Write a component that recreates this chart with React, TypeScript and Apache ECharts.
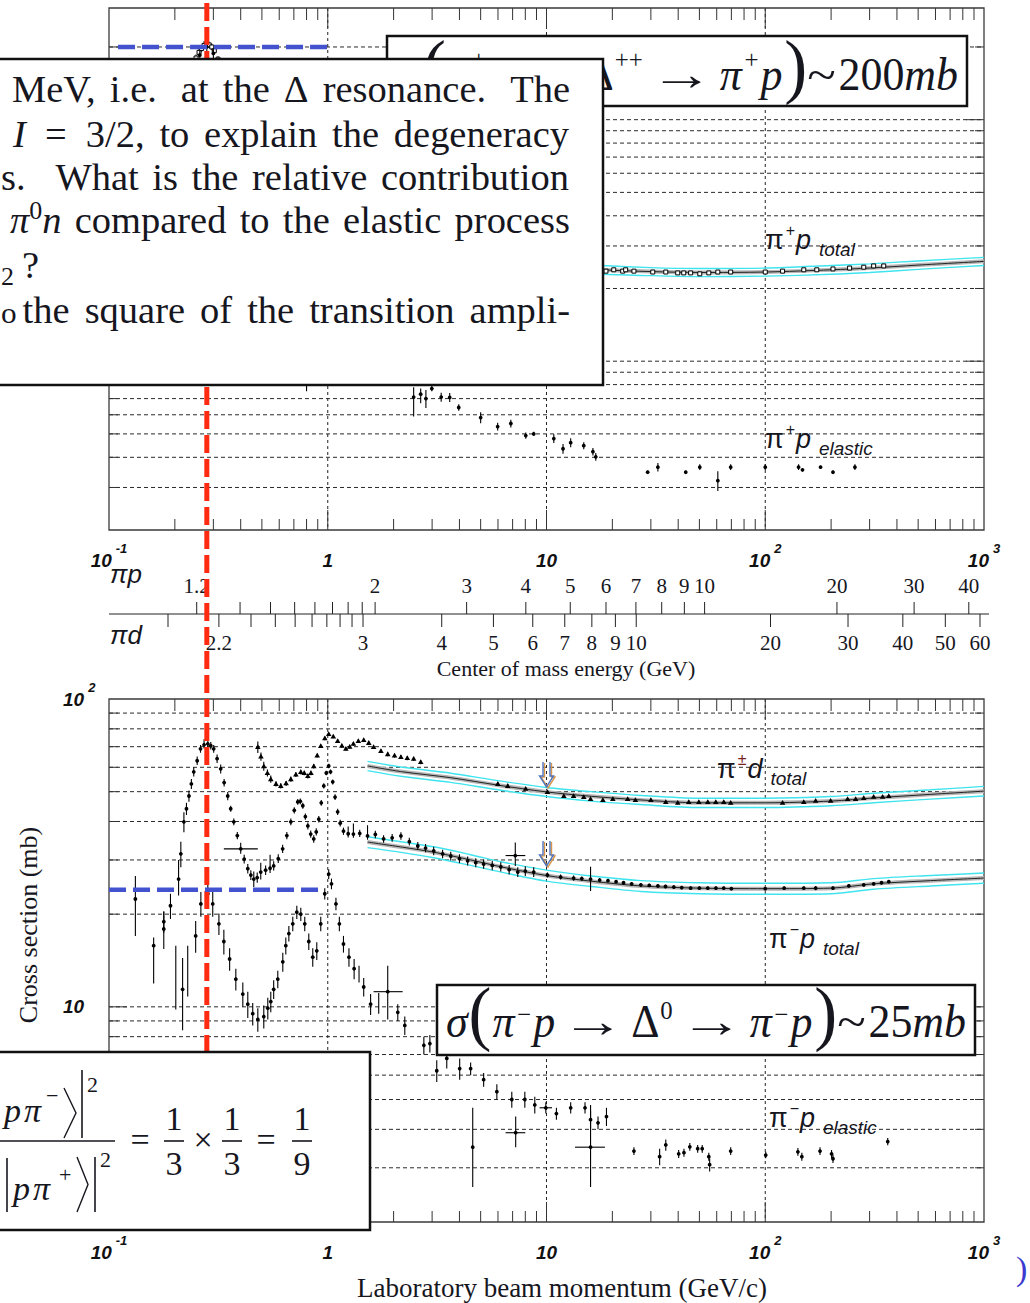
import React, { useEffect, useRef } from "react";
import * as echarts from "echarts";

// ======================= DATA =======================
// rows: [p_lab (GeV/c), sigma (mb), err down, err up, (p low, p high)]
const PIP_TOTAL = [
  [0.15, 30, 4, 4], [0.17, 45, 4, 4], [0.19, 75, 5, 5], [0.21, 110, 6, 6], [0.225, 140, 6, 6],
  [0.24, 165, 6, 6], [0.25, 180, 6, 6], [0.258, 190, 8, 8], [0.265, 197, 6, 6], [0.272, 203, 6, 8],
  [0.28, 206, 6, 6], [0.287, 204, 6, 6], [0.295, 200, 6, 6], [0.303, 193, 6, 6], [0.315, 178, 5, 5],
  [0.33, 160, 5, 5], [0.35, 138, 4, 4], [0.375, 112, 4, 4], [0.4, 92, 3, 3], [0.45, 64, 2, 2],
  [0.5, 45, 2, 2], [0.55, 33, 1, 1], [0.6, 25, 1, 1], [0.7, 17, 1, 1], [0.8, 15, 1, 1],
  [0.9, 18, 1, 1], [1.0, 23, 1, 1], [1.1, 25, 1, 1], [1.2, 24.5, 1, 1], [1.3, 26, 1, 1],
  [1.4, 33, 1, 1], [1.5, 38.5, 1, 1], [1.6, 37, 1, 1], [1.8, 32, 1, 1], [2.0, 30, 1, 1],
  [2.3, 29.5, 1, 1], [2.6, 29, 1, 1], [3.0, 28.2, 0.8, 0.8], [3.5, 27.8, 0.8, 0.8], [4.0, 27.2, 0.6, 0.6],
  [5.0, 26.5, 0.5, 0.5], [6.5, 25.8, 0.5, 0.5], [8.0, 25.3, 0.5, 0.5], [10.0, 24.9, 0.4, 0.4],
  [12.0, 24.5, 0.4, 0.4], [15.0, 24.1, 0.4, 0.4], [17.7, 23.6, 0.4, 0.4], [18.7, 23.6, 0.3, 0.3],
  [20.3, 23.9, 0.5, 0.5], [22.3, 23.6, 0.3, 0.3], [23.0, 23.9, 0.3, 0.3], [25.1, 23.6, 0.3, 0.3],
  [30.6, 23.4, 0.2, 0.2], [35.1, 23.4, 0.2, 0.2], [39.8, 23.2, 0.2, 0.2], [42.4, 23.2, 0.2, 0.2],
  [45.6, 23.2, 0.2, 0.2], [50.2, 23.0, 0.4, 0.2], [55.2, 23.2, 0.2, 0.2], [60.7, 23.4, 0.2, 0.2],
  [69.5, 23.4, 0.2, 0.2], [100, 23.4, 0.2, 0.2], [120, 23.6, 0.2, 0.2], [150, 23.9, 0.3, 0.3],
  [172, 23.9, 0.2, 0.2], [204, 24.1, 0.2, 0.2], [243, 24.3, 0.2, 0.2], [282, 24.5, 0.2, 0.2],
  [313, 24.8, 0.2, 0.2], [348, 24.8, 0.2, 0.2],
];
const PIP_ELASTIC = [
  [0.17, 40, 4, 4], [0.2, 85, 5, 5], [0.23, 140, 8, 8], [0.26, 185, 8, 8], [0.28, 200, 8, 8],
  [0.3, 188, 8, 8], [0.33, 150, 6, 6], [0.37, 105, 5, 5], [0.42, 70, 4, 4], [0.5, 38, 3, 3],
  [0.6, 18, 2, 2], [0.7, 10, 1, 1], [0.8, 8.5, 1, 1], [0.9, 10, 1, 1], [1.0, 13, 1, 1],
  [1.2, 15, 1, 1], [1.5, 17, 1.5, 1.5], [1.8, 13, 1, 1], [2.1, 10, 1, 1],
  [2.47, 7.1, 1.2, 0.7], [2.66, 7.3, 0.6, 0.4], [2.81, 7.0, 0.6, 0.6], [2.99, 7.7, 0.2, 0.2],
  [3.3, 7.1, 0.3, 0.3], [3.61, 7.08, 0.3, 0.3], [3.97, 6.43, 0.2, 0.2], [5.0, 5.84, 0.3, 0.3],
  [5.98, 5.36, 0.2, 0.2], [6.87, 5.52, 0.2, 0.2], [8.04, 4.92, 0.15, 0.15], [8.74, 5.0, 0.1, 0.1],
  [10.8, 4.78, 0.2, 0.2], [11.9, 4.34, 0.2, 0.2], [12.9, 4.6, 0.2, 0.2], [14.8, 4.47, 0.15, 0.15],
  [16.3, 4.22, 0.15, 0.15], [16.8, 4.02, 0.15, 0.15], [29.0, 3.47, 0.05, 0.05], [32.3, 3.64, 0.15, 0.15],
  [43.3, 3.47, 0.05, 0.05], [50.2, 3.64, 0.1, 0.1], [60.7, 3.2, 0.3, 0.3], [69.5, 3.64, 0.1, 0.1],
  [100, 3.64, 0.1, 0.1], [142, 3.64, 0.1, 0.1], [148, 3.55, 0.05, 0.05], [179, 3.64, 0.05, 0.05],
  [204, 3.47, 0.05, 0.05], [257, 3.64, 0.1, 0.1],
];
const PIP_FIT = [[4, 26.6], [6, 25.7], [10, 24.8], [18, 23.9], [30, 23.5], [50, 23.3], [100, 23.4], [200, 23.9], [300, 24.3], [500, 25.0], [1000, 25.9]];
const PIP_FIT_HI = [[4, 27.7], [6, 26.7], [10, 25.8], [18, 24.9], [30, 24.4], [50, 24.2], [100, 24.3], [200, 24.9], [300, 25.3], [500, 26.0], [1000, 26.9]];
const PIP_FIT_LO = [[4, 25.5], [6, 24.7], [10, 23.8], [18, 22.9], [30, 22.6], [50, 22.4], [100, 22.5], [200, 22.9], [300, 23.3], [500, 24.0], [1000, 24.9]];

const PIMP_TOTAL = [
  [0.132, 22.4, 5.4, 4.2], [0.178, 18.9, 1.5, 1.5], [0.191, 21.3, 2, 2], [0.208, 26, 3, 4], [0.213, 31.4, 3, 3],
  [0.22, 39.9, 3, 3], [0.226, 44, 2, 2], [0.232, 48.4, 2, 2], [0.238, 53, 2, 2], [0.244, 58, 2, 2],
  [0.253, 63, 2, 2], [0.262, 68.9, 2, 2], [0.272, 71, 2, 3], [0.283, 71.5, 2, 4], [0.292, 70.5, 2, 2],
  [0.301, 68.9, 2, 2], [0.312, 64, 2, 2], [0.324, 59.3, 2, 2], [0.336, 53.5, 1.5, 1.5], [0.349, 48.4, 1.5, 1.5],
  [0.36, 44, 1, 1], [0.372, 39.9, 1, 1], [0.386, 36, 1, 1], [0.4, 32.6, 1.2, 1.5, 0.335, 0.479],
  [0.415, 30.2, 1, 1], [0.431, 28.1, 1, 1], [0.445, 26.8, 1, 1], [0.459, 26, 1.5, 1.5], [0.476, 26.3, 1, 1],
  [0.494, 27.4, 1.5, 2], [0.52, 27.8, 1, 1], [0.545, 28.2, 1, 3], [0.566, 28.7, 1, 1], [0.594, 30.3, 1, 1],
  [0.622, 32.6, 1, 1], [0.65, 36, 1, 1], [0.678, 39.9, 1, 1], [0.703, 43.5, 1, 1], [0.729, 46.3, 1, 1],
  [0.749, 46.5, 1, 1], [0.769, 45, 1, 1], [0.79, 41.5, 1, 1], [0.811, 38.7, 1, 1], [0.836, 36.4, 1, 1],
  [0.863, 35.1, 1, 1], [0.886, 37, 1, 1], [0.91, 40.7, 1, 1], [0.934, 46, 1, 1], [0.959, 52.2, 1, 1],
  [0.985, 57.5, 1, 1], [1.01, 60.6, 1, 1], [1.03, 58, 1, 1], [1.054, 53.8, 1, 1], [1.08, 48, 1, 1],
  [1.11, 43, 1, 1], [1.14, 39.5, 1, 1], [1.18, 37.2, 1, 1], [1.24, 36.5, 1, 2], [1.31, 36.4, 1, 3],
  [1.4, 36.6, 1, 1], [1.52, 35.9, 1, 3], [1.65, 36.3, 1, 1], [1.8, 35.1, 1, 1], [1.97, 35.4, 1, 1],
  [2.16, 35.9, 1, 1], [2.36, 34.4, 1, 1], [2.58, 33.3, 1, 1], [2.8, 32.8, 1, 1], [3.05, 32.1, 1, 1],
  [3.35, 31.4, 1, 1], [3.65, 30.9, 1, 1], [4.0, 30.3, 1, 1], [4.36, 29.8, 1, 1], [4.75, 29.4, 1, 1],
  [5.16, 29.1, 1, 1], [5.65, 28.8, 1, 1], [6.18, 28.5, 1, 1], [6.75, 27.9, 1, 1], [7.2, 31.0, 2.3, 3.2, 6.5, 8.0],
  [7.39, 27.4, 1, 1], [8.0, 27.6, 1, 1], [8.74, 27.4, 1, 1], [10.1, 26.8, 0.5, 0.5], [11.6, 26.4, 0.5, 0.5],
  [13.3, 26.2, 0.5, 0.5], [14.5, 26.1, 0.4, 0.4], [15.9, 26.0, 2.2, 2.5], [17.5, 25.8, 0.4, 0.4],
  [19.1, 25.7, 0.3, 0.3], [20.8, 25.5, 0.3, 0.3], [22.5, 25.3, 0.3, 0.3], [24.5, 25.1, 0.3, 0.3],
  [27.0, 24.9, 0.3, 0.3], [29.5, 24.8, 0.3, 0.3], [32.3, 24.7, 0.3, 0.3], [35.0, 24.6, 0.3, 0.3],
  [38.2, 24.5, 0.3, 0.3], [41.5, 24.4, 0.3, 0.3], [45.6, 24.3, 0.3, 0.3], [50, 24.3, 0.3, 0.3],
  [54.6, 24.3, 0.3, 0.3], [59.5, 24.3, 0.3, 0.3], [64.6, 24.3, 0.3, 0.3], [70, 24.2, 0.3, 0.3],
  [100, 24.2, 0.3, 0.3], [122, 24.3, 0.3, 0.3], [150, 24.3, 0.3, 0.3], [170, 24.3, 0.4, 0.4],
  [204, 24.3, 0.3, 0.3], [241, 24.7, 0.3, 0.3], [282, 24.9, 0.3, 0.3], [313, 25.1, 0.3, 0.3],
  [340, 25.3, 0.3, 0.3], [367, 25.5, 0.3, 0.3],
];
const PIMP_ELASTIC = [
  [0.16, 15.8, 3.9, 1], [0.178, 17.9, 2.5, 2.5], [0.202, 12.8, 3, 3], [0.217, 11.4, 3, 3], [0.229, 12.8, 2, 3],
  [0.249, 17, 2, 2], [0.263, 21.6, 2, 2], [0.283, 23.3, 2, 2], [0.298, 21.6, 2, 2], [0.318, 18.6, 1.5, 1.5],
  [0.335, 16.3, 1.5, 1.5], [0.356, 14.3, 1.2, 1.2], [0.38, 12.3, 1, 1], [0.409, 11, 1, 1], [0.431, 10.2, 1, 1],
  [0.454, 9.5, 0.8, 0.8], [0.479, 9.1, 0.8, 0.8], [0.51, 9.3, 0.8, 0.8], [0.532, 9.9, 0.8, 0.8],
  [0.549, 10.4, 0.8, 0.8], [0.566, 11.4, 0.8, 0.8], [0.591, 12.3, 0.8, 0.8], [0.623, 14, 1, 1],
  [0.643, 15.8, 1, 1], [0.664, 17.3, 1, 1], [0.692, 18.6, 1, 1], [0.722, 20.3, 1, 1], [0.753, 20, 1, 1],
  [0.785, 18.6, 1, 1], [0.819, 16.3, 1, 1], [0.854, 14.5, 1, 1], [0.891, 15.2, 1, 1], [0.929, 18.6, 1, 1],
  [0.969, 23.3, 1, 1], [1.01, 27, 1, 1], [1.04, 25.1, 1, 1], [1.09, 21.6, 1, 1], [1.13, 18.6, 1, 1],
  [1.18, 16, 1, 1], [1.25, 14.5, 1, 1], [1.32, 13.3, 1, 1], [1.39, 12.8, 0.8, 0.8], [1.46, 11.6, 0.8, 0.8],
  [1.57, 10.2, 0.8, 0.8], [1.71, 10.3, 0.8, 0.8], [1.88, 11.2, 2.1, 2.4, 1.62, 2.2], [2.09, 9.6, 0.6, 0.6],
  [2.25, 8.7, 0.6, 0.6], [2.75, 7.5, 0.5, 0.5], [2.93, 7.6, 0.5, 0.5], [3.15, 6.2, 0.5, 0.5],
  [3.5, 6.8, 0.5, 0.5], [4.01, 6.3, 0.5, 0.5], [4.5, 6.3, 0.3, 0.3], [4.6, 3.5, 0.9, 1.2],
  [5.16, 5.8, 0.3, 0.3], [5.93, 5.3, 0.3, 0.3], [6.94, 5.0, 0.3, 0.3], [7.23, 3.9, 0.4, 0.5, 6.5, 8.0],
  [7.96, 5.0, 0.3, 0.3], [8.84, 4.8, 0.3, 0.3], [9.93, 4.7, 0.2, 0.2, 9.3, 10.6], [11.1, 4.5, 0.2, 0.2],
  [12.9, 4.7, 0.2, 0.2], [15.0, 4.7, 0.2, 0.2], [15.9, 4.3, 0.3, 0.3], [15.9, 3.5, 0.9, 1.3, 13.5, 18.5],
  [17.2, 4.2, 0.2, 0.2], [18.8, 4.4, 0.3, 0.3], [25.1, 3.4, 0.1, 0.1], [32.9, 3.26, 0.2, 0.2],
  [35.1, 3.56, 0.15, 0.15], [40.2, 3.33, 0.1, 0.1], [42.5, 3.36, 0.1, 0.1], [45.2, 3.51, 0.1, 0.1],
  [49.1, 3.46, 0.1, 0.1], [51.5, 3.46, 0.1, 0.1], [55.2, 3.26, 0.1, 0.1], [55.7, 3.07, 0.15, 0.15],
  [69.5, 3.4, 0.1, 0.1], [100.5, 3.3, 0.08, 0.08], [141, 3.38, 0.1, 0.1], [147, 3.26, 0.1, 0.1],
  [178, 3.4, 0.1, 0.1], [201, 3.33, 0.1, 0.1], [204, 3.21, 0.1, 0.1], [363, 3.65, 0.1, 0.1],
];
const PID_TOTAL = [
  [0.479, 69.8, 3, 3], [0.495, 65, 2, 2], [0.51, 60.5, 2, 2], [0.53, 57.5, 1.5, 1.5], [0.549, 54.9, 1.5, 1.5],
  [0.58, 53, 1, 1], [0.61, 52.2, 1, 1], [0.645, 53.2, 1, 1], [0.678, 54.9, 1, 1], [0.715, 56.8, 1, 1],
  [0.753, 57.9, 1, 1], [0.781, 57.5, 1, 1], [0.811, 56.2, 1, 1], [0.838, 57.5, 1, 1], [0.863, 60.5, 1, 1],
  [0.895, 65.5, 1, 1], [0.929, 70.3, 1, 1], [0.97, 74.5, 1, 1], [1.01, 76.9, 1, 1], [1.06, 75.5, 1, 1],
  [1.11, 73, 1, 1], [1.16, 70.5, 1, 1], [1.21, 68.9, 1, 1], [1.26, 70, 1, 1], [1.31, 71.5, 1, 1],
  [1.38, 73, 1, 1], [1.46, 73.6, 1, 1], [1.54, 72, 1, 1], [1.62, 69.8, 1, 1], [1.75, 67.8, 1, 1],
  [1.88, 66.2, 1, 1], [2.02, 65.5, 1, 1], [2.16, 64.8, 1, 1], [2.31, 64.3, 1, 1], [2.47, 63.9, 1, 1],
  [2.66, 62.4, 1, 1],
  [5.99, 53, 0.7, 0.7], [6.65, 52.2, 0.6, 0.6], [8.03, 51.1, 0.6, 0.6], [10.1, 49.9, 0.5, 0.5],
  [12.0, 48.4, 0.5, 0.5], [13.3, 48.4, 0.5, 0.5], [14.8, 48.0, 0.5, 0.5], [15.9, 47.3, 0.5, 0.5],
  [18.1, 47.0, 0.5, 0.5], [20.1, 47.3, 0.5, 0.5], [23.5, 47.3, 0.5, 0.5], [25.5, 47.0, 0.5, 0.5],
  [30.0, 47.0, 0.5, 0.5], [35.1, 46.3, 0.5, 0.5], [39.8, 46.0, 0.5, 0.5], [44.7, 46.3, 0.5, 0.5],
  [49.7, 46.3, 0.5, 0.5], [54.6, 46.3, 0.5, 0.5], [59.4, 46.3, 0.5, 0.5], [64.6, 46.3, 0.5, 0.5],
  [69.5, 46.0, 0.5, 0.5], [120, 46.0, 0.4, 0.4], [150, 46.3, 0.4, 0.4], [170, 46.7, 0.4, 0.4],
  [199, 46.7, 0.4, 0.4], [238, 47.3, 0.4, 0.4], [259, 47.3, 0.4, 0.4], [282, 47.7, 0.4, 0.4],
  [313, 48.1, 0.4, 0.4], [344, 48.1, 0.4, 0.4], [367, 48.4, 0.4, 0.4],
];
const PIMP_FIT = [[1.52, 34.3], [2.2, 33.0], [3.05, 31.8], [4.5, 30.0], [6.2, 28.5], [10, 26.7], [16, 25.6], [27, 24.7], [50, 24.3], [100, 24.2], [200, 24.3], [313, 25.1], [570, 25.7], [1000, 26.2]];
const PIMP_FIT_HI = [[1.52, 35.7], [2.2, 34.3], [3.05, 33.1], [4.5, 31.2], [6.2, 29.6], [10, 27.8], [16, 26.6], [27, 25.7], [50, 25.3], [100, 25.2], [200, 25.3], [313, 26.1], [570, 26.7], [1000, 27.2]];
const PIMP_FIT_LO = [[1.52, 32.9], [2.2, 31.7], [3.05, 30.5], [4.5, 28.8], [6.2, 27.4], [10, 25.6], [16, 24.6], [27, 23.7], [50, 23.3], [100, 23.2], [200, 23.3], [313, 24.1], [570, 24.7], [1000, 25.2]];
const PID_FIT = [[1.52, 60.6], [2.2, 58.0], [3.65, 55.5], [6, 52.5], [10, 49.9], [16, 48.3], [27, 47.0], [50, 46.0], [100, 46.0], [200, 46.6], [313, 47.7], [570, 49.0], [1000, 50.2]];
const PID_FIT_HI = [[1.52, 62.7], [2.2, 60.0], [3.65, 57.4], [6, 54.3], [10, 51.6], [16, 50.0], [27, 48.6], [50, 47.6], [100, 47.6], [200, 48.2], [313, 49.4], [570, 50.7], [1000, 52.0]];
const PID_FIT_LO = [[1.52, 58.5], [2.2, 56.0], [3.65, 53.6], [6, 50.7], [10, 48.2], [16, 46.6], [27, 45.4], [50, 44.4], [100, 44.4], [200, 45.0], [313, 46.0], [570, 47.3], [1000, 48.4]];

// annotation values
const DELTA_P = 0.28; // GeV/c at the Delta resonance (red line)
const SIGMA_PIP_DELTA = 200; // mb (top blue line)
const SIGMA_PIMP_DELTA = 24; // mb (bottom blue line)
const BLUE_TOP_P = [0.11, 1];
const BLUE_BOT_P = [0.1, 0.91];
const ARROW_P = 10;
const ARROW_TIPS = [51.8, 28.7]; // mb, pi d and pi- p

// axes
const X_MIN = 0.1, X_MAX = 1000;
const Y_TOP = [2, 290];
const Y_BOT = [2, 100];
const X_INNER_DECADES = [1, 10, 100];
const X_MINOR = [0.2, 0.3, 0.4, 0.5, 0.6, 0.7, 0.8, 0.9, 2, 3, 4, 5, 6, 7, 8, 9, 20, 30, 40, 50, 60, 70, 80, 90, 200, 300, 400, 500, 600, 700, 800, 900];
const Y_GRID_TOP = [3, 4, 5, 6, 7, 8, 9, 10, 20, 30, 40, 50, 60, 70, 80, 90, 100, 200];
const Y_GRID_BOT = [3, 4, 5, 6, 7, 8, 9, 10, 20, 30, 40, 50, 60, 70, 80, 90];
const Y_DECADES = [10, 100];

// centre-of-mass energy scale (GeV)
const CM_PIP_LABELED = [1.2, 2, 3, 4, 5, 6, 7, 8, 9, 10, 20, 30, 40];
const CM_PIP_MINOR = [1.3, 1.4, 1.5, 1.6, 1.7, 1.8, 1.9];
const CM_PID_LABELED = [2.2, 3, 4, 5, 6, 7, 8, 9, 10, 20, 30, 40, 50, 60];
const CM_PID_MINOR = [2.1, 2.3, 2.4, 2.5, 2.6, 2.7, 2.8, 2.9];
const M_PION = 0.13957, M_PROTON = 0.93827, M_DEUTERON = 1.87561;

// ======================= STYLE / LAYOUT =======================
const SERIF = '"Liberation Serif", "Times New Roman", serif';
const SANS = '"Liberation Sans", Arial, sans-serif';
const INK = "#16161e";
const CYAN = "#3fe4ee";

function plab(w: number, mT: number) {
  const s = w * w;
  const E = (s - M_PION * M_PION - mT * mT) / (2 * mT);
  return Math.sqrt(E * E - M_PION * M_PION);
}

const fmtPow = (v: number) => {
  const l = Math.log10(v);
  const e = Math.round(l);
  if (Math.abs(l - e) > 1e-6) return "";
  if (e === 0) return "{b|1}";
  if (e === 1) return "{b|10}";
  return `{b|10}{s|${e}}`;
};
const LBL = { fontFamily: SANS, fontWeight: "bold", fontStyle: "italic", color: "#111" };
const RICH = {
  b: { ...LBL, fontSize: 19, padding: [9, 0, 0, 0], verticalAlign: "bottom" },
  s: { ...LBL, fontSize: 13, lineHeight: 14, verticalAlign: "top", padding: [0, 0, 0, 4] },
};

function frameSeries(gi: number, yGrid: number[]) {
  return {
    type: "custom",
    xAxisIndex: gi,
    yAxisIndex: gi,
    silent: true,
    z: 1,
    data: [[1, 10]],
    renderItem: (params: any, api: any) => {
      const cs = params.coordSys;
      const L = cs.x, T = cs.y, R = cs.x + cs.width, B = cs.y + cs.height;
      const ch: any[] = [];
      const ln = (x1: number, y1: number, x2: number, y2: number, st: any) =>
        ch.push({ type: "line", shape: { x1, y1, x2, y2 }, style: st });
      const grid = { stroke: "#2a2a2a", lineWidth: 1, lineDash: [4, 3] };
      const tick = { stroke: "#333", lineWidth: 1 };
      yGrid.forEach((v) => {
        const y = api.coord([1, v])[1];
        ln(L, y, R, y, grid);
        const len = Y_DECADES.includes(v) ? 18 : 9;
        ln(L, y, L + len, y, tick);
        ln(R - len, y, R, y, tick);
      });
      X_INNER_DECADES.forEach((v) => {
        const x = api.coord([v, 10])[0];
        ln(x, T, x, B, { stroke: "#222", lineWidth: 1, lineDash: [3, 3] });
        ln(x, T, x, T + 20, tick);
        ln(x, B - 20, x, B, tick);
      });
      X_MINOR.forEach((v) => {
        const x = api.coord([v, 10])[0];
        ln(x, T, x, T + 12, tick);
        ln(x, B - 11, x, B, tick);
      });
      ch.push({ type: "rect", shape: { x: L, y: T, width: R - L, height: B - T }, style: { fill: "none", stroke: "#3a3a3a", lineWidth: 1.3 } });
      return { type: "group", children: ch };
    },
  };
}

function marker(kind: string, x: number, y: number) {
  if (kind === "sq") return { type: "rect", shape: { x: x - 2, y: y - 2, width: 4, height: 4 }, style: { fill: "#fff", stroke: "#000", lineWidth: 1 } };
  if (kind === "tri") return { type: "polygon", shape: { points: [[x, y - 2.8], [x - 2.8, y + 2], [x + 2.8, y + 2]] }, style: { fill: "#000" } };
  return { type: "circle", shape: { cx: x, cy: y, r: 1.9 }, style: { fill: "#000" } };
}

function pointsSeries(data: number[][], gi: number, kind: string) {
  return {
    type: "custom",
    xAxisIndex: gi,
    yAxisIndex: gi,
    silent: true,
    z: 4,
    dimensions: ["p", "v", "dn", "up", "pl", "ph"],
    encode: { x: 0, y: 1 },
    data,
    renderItem: (params: any, api: any) => {
      const cs = params.coordSys;
      const T = cs.y, B = cs.y + cs.height;
      const cl = (y: number) => Math.max(T, Math.min(B, y));
      const p = api.value(0), v = api.value(1);
      const dn = api.value(2) || 0, up = api.value(3) || 0;
      const c = api.coord([p, v]);
      const ch: any[] = [];
      if (dn > 0 || up > 0) {
        const y1 = api.coord([p, v + up])[1];
        const y2 = v - dn > 0 ? api.coord([p, v - dn])[1] : B;
        ch.push({ type: "line", shape: { x1: c[0], y1: cl(y1), x2: c[0], y2: cl(y2) }, style: { stroke: "#000", lineWidth: 1.1 } });
      }
      const pl = api.value(4), ph = api.value(5);
      if (pl > 0 && ph > 0 && c[1] >= T && c[1] <= B) {
        const xa = api.coord([pl, v])[0], xb = api.coord([ph, v])[0];
        ch.push({ type: "line", shape: { x1: xa, y1: c[1], x2: xb, y2: c[1] }, style: { stroke: "#000", lineWidth: 1.1 } });
      }
      if (c[1] >= T && c[1] <= B) ch.push(marker(kind, c[0], c[1]));
      return { type: "group", children: ch };
    },
  };
}

function lineSeries(data: number[][], gi: number, color: string, width: number, z: number) {
  return {
    type: "line",
    xAxisIndex: gi,
    yAxisIndex: gi,
    data,
    showSymbol: false,
    smooth: 0.3,
    silent: true,
    z,
    lineStyle: { color, width },
  };
}

function fitGroup(gi: number, fit: number[][], hi: number[][], lo: number[][]) {
  return [
    lineSeries(hi, gi, CYAN, 1.4, 2),
    lineSeries(lo, gi, CYAN, 1.4, 2),
    lineSeries(fit, gi, "#b5b5b5", 4, 2),
    lineSeries(fit, gi, "#222", 1, 3),
  ];
}

function buildOption() {
  const xAxis = [0, 1].map((i) => ({
    gridIndex: i,
    type: "log",
    logBase: 10,
    min: X_MIN,
    max: X_MAX,
    axisLine: { show: false },
    axisTick: { show: false },
    splitLine: { show: false },
    axisLabel: { margin: 12, formatter: fmtPow, rich: RICH, showMinLabel: true, showMaxLabel: true, hideOverlap: false },
  }));
  const yAxis = [Y_TOP, Y_BOT].map((r, i) => ({
    gridIndex: i,
    type: "log",
    logBase: 10,
    min: r[0],
    max: r[1],
    axisLine: { show: false },
    axisTick: { show: false },
    splitLine: { show: false },
    axisLabel: { margin: 46, align: "left", formatter: fmtPow, rich: RICH, padding: [0, 0, 9, 0] },
  }));
  return {
    animation: false,
    backgroundColor: "#fff",
    grid: [
      { left: 109, top: 8, width: 875, height: 522 },
      { left: 109, top: 699, width: 875, height: 523 },
    ],
    xAxis,
    yAxis,
    series: [
      frameSeries(0, Y_GRID_TOP),
      frameSeries(1, Y_GRID_BOT),
      ...fitGroup(0, PIP_FIT, PIP_FIT_HI, PIP_FIT_LO),
      ...fitGroup(1, PIMP_FIT, PIMP_FIT_HI, PIMP_FIT_LO),
      ...fitGroup(1, PID_FIT, PID_FIT_HI, PID_FIT_LO),
      pointsSeries(PIP_TOTAL, 0, "sq"),
      pointsSeries(PIP_ELASTIC, 0, "dot"),
      pointsSeries(PIMP_TOTAL, 1, "dot"),
      pointsSeries(PIMP_ELASTIC, 1, "dot"),
      pointsSeries(PID_TOTAL, 1, "tri"),
    ],
  };
}

// ---------- text typesetting helpers ----------
type Run = { t: string; size: number; it?: boolean; bold?: boolean; fam?: string; dy?: number; pre?: number; sx?: number; sy?: number; fill?: string };
let CTX: CanvasRenderingContext2D | null = null;
function measure(r: Run) {
  if (!CTX) CTX = document.createElement("canvas").getContext("2d");
  CTX!.font = `${r.it ? "italic " : ""}${r.bold ? "bold " : ""}${r.size}px ${r.fam || SERIF}`;
  return CTX!.measureText(r.t).width * (r.sx || 1);
}
function textEl(r: Run, x: number, baseline: number, z: number, align = "left", rotation = 0) {
  const fam = r.fam || SERIF;
  const k = fam === SERIF ? 0.3375 : 0.3467;
  return {
    type: "text",
    x,
    y: baseline + (r.dy || 0) - k * r.size * (r.sy || 1),
    z,
    scaleX: r.sx || 1,
    scaleY: r.sy || 1,
    rotation,
    silent: true,
    style: {
      text: r.t,
      fill: r.fill || INK,
      fontSize: r.size,
      fontFamily: fam,
      fontStyle: r.it ? "italic" : "normal",
      fontWeight: r.bold ? "bold" : "normal",
      align,
      verticalAlign: "middle",
    },
  };
}
function seq(runs: Run[], x: number, baseline: number, z: number) {
  const out: any[] = [];
  for (const r of runs) {
    x += r.pre || 0;
    out.push(textEl(r, x, baseline, z));
    x += measure(r);
  }
  return out;
}
function seqWidth(runs: Run[]) {
  return runs.reduce((s, r) => s + (r.pre || 0) + measure(r), 0);
}
// squeeze/stretch a run sequence horizontally by factor f
function condense(runs: Run[], f: number): Run[] {
  return runs.map((r) => ({ ...r, sx: (r.sx || 1) * f, pre: (r.pre || 0) * f }));
}
function justify(words: Run[][], x0: number, x1: number, baseline: number, z: number, wts?: number[]) {
  const ww = words.map((wd) => wd.reduce((s, r) => s + measure(r), 0));
  const total = ww.reduce((a, b) => a + b, 0);
  const weights = wts || words.slice(1).map(() => 1);
  const unit = (x1 - x0 - total) / weights.reduce((a, b) => a + b, 0);
  const out: any[] = [];
  let x = x0;
  words.forEach((wd, i) => {
    let xx = x;
    wd.forEach((r) => {
      out.push(textEl(r, xx, baseline, z));
      xx += measure(r);
    });
    x += ww[i] + (i < weights.length ? weights[i] * unit : 0);
  });
  return out;
}
const line = (x1: number, y1: number, x2: number, y2: number, stroke = "#222", lineWidth = 1, z = 5, lineDash?: number[]) => ({
  type: "line",
  z,
  silent: true,
  shape: { x1, y1, x2, y2 },
  style: { stroke, lineWidth, lineDash },
});
const box = (x: number, y: number, w: number, h: number, z: number) => ({
  type: "rect",
  z,
  silent: true,
  shape: { x, y, width: w, height: h },
  style: { fill: "#fff", stroke: "#111", lineWidth: 2.5 },
});
function hollowArrow(x: number, tip: number, stroke: string, z: number) {
  const top = tip - 25, head = tip - 11;
  return {
    type: "polyline",
    z,
    silent: true,
    shape: { points: [[x - 3.5, top], [x - 3.5, head], [x - 7, head], [x, tip], [x + 7, head], [x + 3.5, head], [x + 3.5, top]] },
    style: { stroke, lineWidth: 1.4, fill: "none" },
  };
}

function buildGraphics(chart: any) {
  const X = (v: number) => chart.convertToPixel({ xAxisIndex: 0 }, v) as number;
  const YT = (v: number) => chart.convertToPixel({ yAxisIndex: 0 }, v) as number;
  const YB = (v: number) => chart.convertToPixel({ yAxisIndex: 1 }, v) as number;
  const els: any[] = [];

  // ---- centre of mass energy axes ----
  const AX = 614;
  els.push(line(109, AX, 989, AX, "#222", 1.2));
  [...CM_PIP_LABELED, ...CM_PIP_MINOR].forEach((w) => {
    const x = X(plab(w, M_PROTON));
    els.push(line(x, AX - 12, x, AX, "#222", 1));
  });
  CM_PIP_LABELED.forEach((w) => els.push(textEl({ t: String(w), size: 21 }, X(plab(w, M_PROTON)), 593, 6, "center")));
  [...CM_PID_LABELED, ...CM_PID_MINOR].forEach((w) => {
    const x = X(plab(w, M_DEUTERON));
    els.push(line(x, AX, x, AX + 13, "#222", 1));
  });
  CM_PID_LABELED.forEach((w) => els.push(textEl({ t: String(w), size: 21 }, X(plab(w, M_DEUTERON)), 650, 6, "center")));
  els.push(...seq([{ t: "π", size: 26, fam: SANS, it: true }, { t: "p", size: 26, fam: SANS, it: true }], 110, 583, 6));
  els.push(...seq([{ t: "π", size: 26, fam: SANS, it: true }, { t: "d", size: 26, fam: SANS, it: true }], 110, 644, 6));
  els.push(textEl({ t: "Center of mass energy (GeV)", size: 22 }, 566, 676, 6, "center"));

  // ---- axis titles ----
  els.push(textEl({ t: "Laboratory beam momentum (GeV/c)", size: 27 }, 562, 1297, 6, "center"));
  els.push({ ...textEl({ t: "Cross section (mb)", size: 26 }, 28, 925, 6, "center", Math.PI / 2), y: 925 });

  // ---- curve labels ----
  const lab = (x: number, bl: number, sign: string, signFill: string, part: string, sub: string) =>
    seq(
      [
        { t: "π", size: 27, fam: SANS },
        { t: sign, size: 16, fam: SANS, dy: -13, pre: 2, fill: signFill },
        { t: part, size: 27, fam: SANS, it: true, pre: 1 },
        { t: sub, size: 19, fam: SANS, it: true, dy: 7, pre: 8 },
      ],
      x,
      bl,
      6
    );
  els.push(...lab(765, 249, "+", INK, "p", "total"));
  els.push(...lab(765, 448, "+", INK, "p", "elastic"));
  els.push(...lab(717, 778, "±", "#7a1f1f", "d", "total"));
  els.push(...lab(769, 948, "−", INK, "p", "total"));
  els.push(...lab(769, 1127, "−", INK, "p", "elastic"));

  // ---- hollow arrows at 10 GeV/c ----
  ARROW_TIPS.forEach((v) => {
    const x = X(ARROW_P), tip = YB(v);
    els.push(hollowArrow(x + 1.5, tip + 1, "#d9964a", 7));
    els.push(hollowArrow(x, tip, "#4f76bd", 8));
  });

  // ---- red / blue dashed markers ----
  const xr = X(DELTA_P);
  els.push(line(xr, 3, xr, 1052, "#ff2a10", 5, 30, [18, 6]));
  els.push(line(X(BLUE_TOP_P[0]), YT(SIGMA_PIP_DELTA), X(BLUE_TOP_P[1]), YT(SIGMA_PIP_DELTA), "#4352cf", 4.5, 31, [17, 7]));
  els.push(line(X(BLUE_BOT_P[0]), YB(SIGMA_PIMP_DELTA), X(BLUE_BOT_P[1]), YB(SIGMA_PIMP_DELTA), "#4352cf", 4.5, 31, [17, 7]));

  // ---- reaction boxes ----
  const BIG = 46, SUP = 26, PAR = 72, ARW = 1.45;
  const reaction = (charge: string, mid: string, midDy: number, supDy: number, total: string): Run[] => [
    { t: "σ", size: BIG, it: true },
    { t: "(", size: PAR, pre: 1 },
    { t: "π", size: BIG, it: true, pre: 1 },
    { t: charge, size: SUP, dy: supDy, pre: 3 },
    { t: "p", size: BIG, it: true, pre: 2 },
    { t: "→", size: BIG, pre: 6, sx: ARW },
    { t: "Δ", size: BIG, pre: 7 },
    { t: mid, size: SUP, dy: midDy, pre: 1 },
    { t: "→", size: BIG, pre: 7, sx: ARW },
    { t: "π", size: BIG, it: true, pre: 7 },
    { t: charge, size: SUP, dy: supDy, pre: 3 },
    { t: "p", size: BIG, it: true, pre: 2 },
    { t: ")", size: PAR, pre: 2 },
    { t: "~", size: BIG, sx: 1.2 },
    { t: total, size: BIG, pre: 3 },
    { t: "mb", size: BIG, it: true },
  ];
  const r3 = reaction("−", "0", -18, -14, "25");
  const f3 = (966 - 446) / seqWidth(r3);
  const box3 = condense(r3, f3);
  const box2 = condense(reaction("+", "++", -22, -22, "200"), f3);
  els.push(box(387, 36, 580, 70, 40));
  els.push(...seq(box2, 958 - seqWidth(box2), 90, 41));
  els.push(box(437, 985, 538, 70, 40));
  els.push(...seq(box3, 446, 1037, 41));

  // ---- box 1 : paragraph ----
  const P = (t: string, o: any = {}): Run => ({ t, size: 37, sx: 1.04, ...o });
  const W = (...ts: string[]) => ts.map((t) => [P(t)]);
  els.push(box(-3, 59, 606, 326, 50));
  els.push(...justify(W("MeV,", "i.e.", "at", "the", "Δ", "resonance.", "The"), 12, 570, 102, 51, [1, 1.7, 1, 1, 1, 1.7]));
  els.push(...justify([[P("I", { it: true })], ...W("=", "3/2,", "to", "explain", "the", "degeneracy")], 13, 569, 147, 51, [1.3, 1.3, 1, 1, 1, 1]));
  els.push(...justify(W("s.", "What", "is", "the", "relative", "contribution"), 1, 569, 190, 51, [2.2, 1, 1, 1, 1]));
  els.push(...justify([[P("π", { it: true }), P("0", { size: 25, dy: -14, pre: 1 }), P("n", { it: true })], ...W("compared", "to", "the", "elastic", "process")], 10, 570, 233, 51));
  els.push(textEl(P("2", { size: 25 }), 1, 285, 51));
  els.push(textEl(P("?"), 22, 278, 51));
  els.push(...justify([[P("o", { size: 30 })], ...W("the", "square", "of", "the", "transition", "ampli-")], 1, 570, 323, 51, [0.4, 1, 1, 1, 1, 1]));

  // ---- box 4 : amplitude ratio ----
  els.push(box(-3, 1052, 373, 178, 50));
  const F = (t: string, o: any = {}): Run => ({ t, size: 34, ...o });
  const stroke = (x1: number, y1: number, x2: number, y2: number) => line(x1, y1, x2, y2, INK, 1.6, 51);
  const angle = (x: number, y1: number, y2: number, w: number) => ({
    type: "polyline",
    z: 51,
    silent: true,
    shape: { points: [[x, y1], [x + w, (y1 + y2) / 2], [x, y2]] },
    style: { stroke: INK, lineWidth: 1.4, fill: "none" },
  });
  els.push(textEl(F("p", { it: true }), 4, 1122, 51));
  els.push(textEl(F("π", { it: true }), 24, 1122, 51));
  els.push(textEl(F("−", { size: 22 }), 46, 1103, 51));
  els.push(angle(64, 1088, 1138, 12));
  els.push(stroke(82, 1070, 82, 1138));
  els.push(textEl(F("2", { size: 22 }), 87, 1092, 51));
  els.push(stroke(0, 1141, 115, 1141));
  els.push(stroke(7, 1158, 7, 1212));
  els.push(textEl(F("p", { it: true }), 13, 1200, 51));
  els.push(textEl(F("π", { it: true }), 33, 1200, 51));
  els.push(textEl(F("+", { size: 22 }), 59, 1182, 51));
  els.push(angle(77, 1157, 1212, 11));
  els.push(stroke(95, 1157, 95, 1212));
  els.push(textEl(F("2", { size: 22 }), 100, 1167, 51));
  const frac = (cx: number, num: string, den: string) => {
    els.push(textEl(F(num), cx, 1130, 51, "center"));
    els.push(stroke(cx - 10, 1141, cx + 10, 1141));
    els.push(textEl(F(den), cx, 1175, 51, "center"));
  };
  els.push(textEl(F("="), 140, 1151, 51, "center"));
  frac(174, "1", "3");
  els.push(textEl(F("×"), 203, 1151, 51, "center"));
  frac(232, "1", "3");
  els.push(textEl(F("="), 266, 1151, 51, "center"));
  frac(302, "1", "9");

  // stray glyph at the right margin
  els.push(textEl({ t: ")", size: 34, fill: "#3b3bd0" }, 1016, 1280, 6));
  return els;
}

export default function App() {
  const ref = useRef<HTMLDivElement>(null);
  useEffect(() => {
    document.body.style.margin = "0";
    const el = ref.current!;
    const chart = echarts.init(el, undefined, { renderer: "svg", width: 1030, height: 1303 });
    chart.setOption(buildOption() as any);
    chart.setOption({ graphic: { elements: buildGraphics(chart) } } as any);
    return () => chart.dispose();
  }, []);
  return <div ref={ref} style={{ width: 1030, height: 1303, background: "#fff" }} />;
}
